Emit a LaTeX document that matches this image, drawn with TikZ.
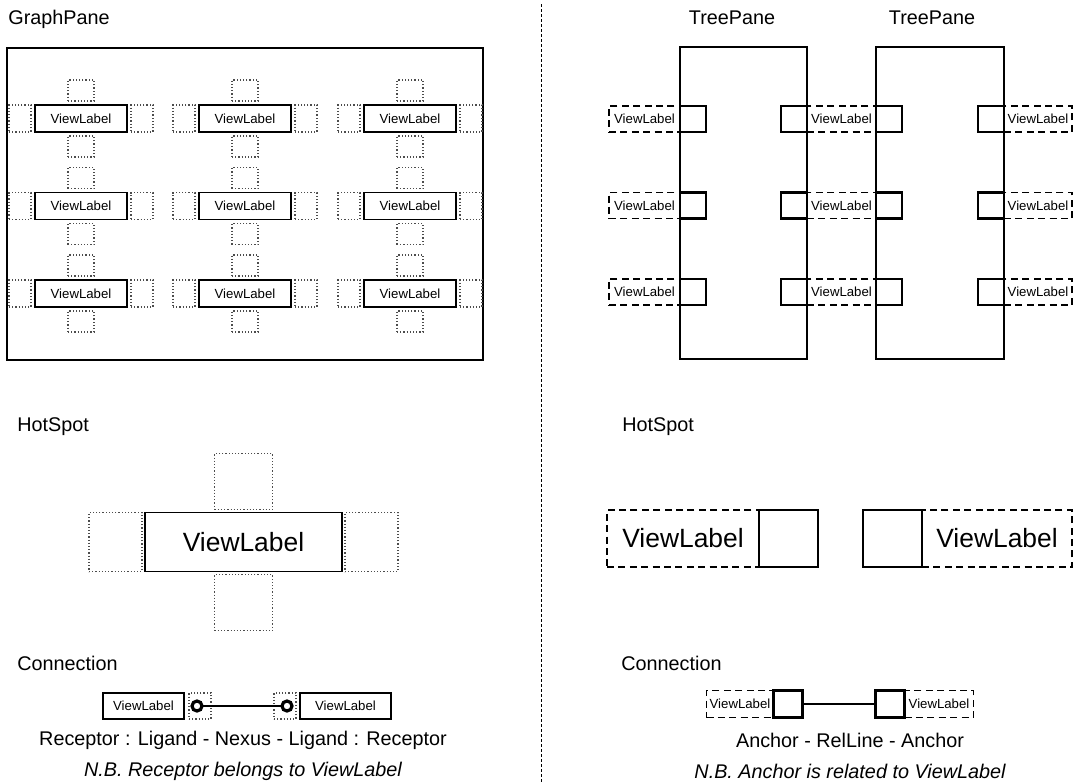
\documentclass[tikz,border=0pt]{standalone}
\usepackage{fontspec}
\setmainfont{Liberation Sans}
\usetikzlibrary{positioning}
\begin{document}
\begin{tikzpicture}[x=.5pt,y=-.5pt,
 title/.style={anchor=west,inner sep=0,font=\fontsize{9.9}{12}\selectfont},
 caption/.style={inner sep=0,font=\fontsize{9.9}{12}\selectfont},
 vlab/.style={draw,line width=.9pt,minimum width=46pt,minimum height=13.5pt,inner sep=0,outer sep=0,font=\fontsize{6.6}{7}\selectfont},
 hs/.style={draw=black!70,densely dotted,line width=.6pt,inner sep=0,outer sep=0},
 pane/.style={draw,line width=1pt,inner sep=0,outer sep=0,minimum height=156pt},
 anc/.style={draw,line width=1.2pt,minimum size=13pt,inner sep=0,outer sep=0},
 dlab/.style={draw,dash pattern=on 3.5pt off 2.2pt,line width=.9pt,minimum height=13pt,inner sep=0,outer sep=0,font=\fontsize{6.6}{7}\selectfont},
 lig/.style={circle,draw,line width=1.6pt,minimum size=5pt,inner sep=0,outer sep=0}]
\useasboundingbox (0,0) rectangle (1074,782);
\draw[dash pattern=on 1.5pt off 1pt,line width=.5pt] (541,4) -- (541,782);

\node[title] at (8,19) {GraphPane};
\node[pane,minimum width=238pt] (gp) at (245,204) {};
\foreach \c/\x in {0/81,1/245,2/410}
 \foreach \r/\y in {0/118.5,1/206,2/293.5}{
  \node[vlab] (g\r\c) at (\x,\y) {ViewLabel};
  \node[hs,minimum width=11pt,minimum height=13.5pt,left=2pt of g\r\c] {};
  \node[hs,minimum width=11pt,minimum height=13.5pt,right=2pt of g\r\c] {};
  \node[hs,minimum width=13pt,minimum height=10.5pt,above=2pt of g\r\c] {};
  \node[hs,minimum width=13pt,minimum height=10.5pt,below=2pt of g\r\c] {};
 }

\node[caption] at (732,18) {TreePane};
\node[caption] at (932,18) {TreePane};
\node[pane,minimum width=63.5pt] (tp1) at (743.5,203) {};
\node[pane,minimum width=64pt] (tp2) at (940,203) {};
\foreach \r/\y in {0/119,1/205.5,2/292}{
 \node[anc,anchor=west] (al\r) at (tp1.west |- 0,\y) {};
 \node[anc,anchor=east] (ar\r) at (tp1.east |- 0,\y) {};
 \node[anc,anchor=west] (bl\r) at (tp2.west |- 0,\y) {};
 \node[anc,anchor=east] (br\r) at (tp2.east |- 0,\y) {};
 \node[dlab,minimum width=35.5pt,left=0pt of al\r] {ViewLabel};
 \node[dlab,minimum width=34.5pt,right=0pt of ar\r] {ViewLabel};
 \node[dlab,minimum width=34pt,right=0pt of br\r] {ViewLabel};
}

\node[title] at (17,427) {HotSpot};
\node[vlab,minimum width=98.5pt,minimum height=29.5pt,font=\fontsize{13.2}{15}\selectfont] (hv) at (243.5,542) {ViewLabel};
\node[hs,minimum width=26.5pt,minimum height=29.5pt,left=1.5pt of hv] {};
\node[hs,minimum width=26.5pt,minimum height=29.5pt,right=1.5pt of hv] {};
\node[hs,minimum width=29pt,minimum height=28pt,above=1.5pt of hv] {};
\node[hs,minimum width=29pt,minimum height=28pt,below=1.5pt of hv] {};

\node[title] at (622,427) {HotSpot};
\node[anc,minimum width=29.5pt,minimum height=28.5pt] (ha) at (788.5,538.5) {};
\node[dlab,minimum width=76pt,minimum height=28.5pt,font=\fontsize{13.2}{15}\selectfont,left=0pt of ha] {ViewLabel};
\node[anc,minimum width=29.5pt,minimum height=28.5pt] (hb) at (892.5,538.5) {};
\node[dlab,minimum width=75pt,minimum height=28.5pt,font=\fontsize{13.2}{15}\selectfont,right=0pt of hb] {ViewLabel};

\node[title] at (17,663) {Connection};
\node[vlab,minimum width=40.5pt,minimum height=13pt] (c1) at (143.5,706) {ViewLabel};
\node[hs,minimum width=11pt,minimum height=13pt,right=2.5pt of c1] (r1) {};
\node[vlab,minimum width=45.5pt,minimum height=13pt] (c2) at (345.5,706) {ViewLabel};
\node[hs,minimum width=11pt,minimum height=13pt,left=2pt of c2] (r2) {};
\node[lig] (l1) at ([xshift=4pt]r1.west) {};
\node[lig] (l2) at ([xshift=-4.5pt]r2.east) {};
\draw[line width=1.1pt] (l1) -- (l2);
\node[caption] at (243,740) {Receptor : Ligand - Nexus - Ligand : Receptor};
\node[caption,font=\fontsize{9.9}{12}\selectfont\itshape] at (243,771) {N.B. Receptor belongs to ViewLabel};

\node[title] at (621,663) {Connection};
\node[anc,line width=1.6pt,minimum width=14.5pt,minimum height=13.5pt] (k1) at (788,704) {};
\node[dlab,minimum width=33.5pt,minimum height=13.5pt,left=0pt of k1] {ViewLabel};
\node[anc,line width=1.6pt,minimum width=14.5pt,minimum height=13.5pt] (k2) at (890,704) {};
\node[dlab,minimum width=34.5pt,minimum height=13.5pt,right=0pt of k2] {ViewLabel};
\draw[line width=1.1pt] (k1) -- (k2);
\node[caption] at (850,740) {Anchor - RelLine - Anchor};
\node[caption,font=\fontsize{9.9}{12}\selectfont\itshape] at (850,771) {N.B. Anchor is related to ViewLabel};
\end{tikzpicture}
\end{document}
